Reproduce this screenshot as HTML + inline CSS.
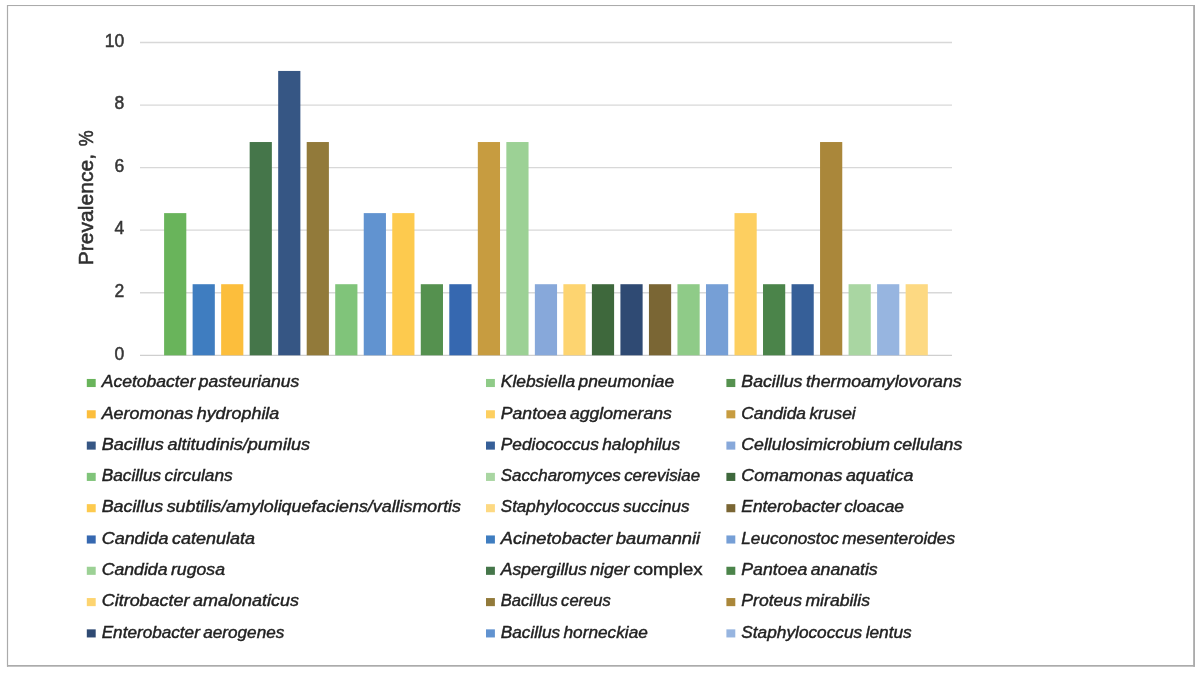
<!DOCTYPE html>
<html lang="en">
<head>
<meta charset="utf-8">
<title>Prevalence chart</title>
<style>
html,body{margin:0;padding:0;background:#fff;}
body{width:1200px;height:674px;overflow:hidden;position:relative;font-family:"Liberation Sans",sans-serif;}
svg{position:absolute;left:0;top:0;display:block;}
.ax{font-family:"Liberation Sans",sans-serif;font-size:17.5px;fill:#363636;stroke:#363636;stroke-width:0.5px;}
.ttl{font-family:"Liberation Sans",sans-serif;font-size:20.4px;fill:#303030;stroke:#303030;stroke-width:0.55px;}
.lg{font-family:"Liberation Sans",sans-serif;font-size:16.3px;font-style:italic;fill:#222;stroke:#222;stroke-width:0.42px;word-spacing:-1.3px;}
.lg.up{font-style:normal;}
</style>
</head>
<body>
<svg width="1200" height="674" viewBox="0 0 1200 674">
<rect x="0" y="0" width="1200" height="674" fill="#ffffff"/>
<g fill="#ababab">
<rect x="7" y="5" width="1188" height="1.05"/>
<rect x="6.9" y="5" width="1.2" height="661.7"/>
<rect x="1193.15" y="5" width="1.85" height="661.7"/>
<rect x="7" y="665" width="1188" height="1.7"/>
</g>

<g stroke="#d8d8d8" stroke-width="1.3">
<line x1="140" y1="355.30" x2="952" y2="355.30" stroke="#cfcfcf"/>
<line x1="140" y1="292.74" x2="952" y2="292.74"/>
<line x1="140" y1="230.18" x2="952" y2="230.18"/>
<line x1="140" y1="167.62" x2="952" y2="167.62"/>
<line x1="140" y1="105.06" x2="952" y2="105.06"/>
<line x1="140" y1="42.50" x2="952" y2="42.50"/>
</g>
<g>
<rect x="164.10" y="213.12" width="22.20" height="142.18" fill="#69B45B"/>
<rect x="192.62" y="284.21" width="22.20" height="71.09" fill="#3F7DC0"/>
<rect x="221.14" y="284.21" width="22.20" height="71.09" fill="#FCBE3C"/>
<rect x="249.66" y="142.03" width="22.20" height="213.27" fill="#45764A"/>
<rect x="278.18" y="70.94" width="22.20" height="284.36" fill="#365684"/>
<rect x="306.70" y="142.03" width="22.20" height="213.27" fill="#927A3A"/>
<rect x="335.22" y="284.21" width="22.20" height="71.09" fill="#80C47A"/>
<rect x="363.74" y="213.12" width="22.20" height="142.18" fill="#6193D0"/>
<rect x="392.26" y="213.12" width="22.20" height="142.18" fill="#FDCA4E"/>
<rect x="420.78" y="284.21" width="22.20" height="71.09" fill="#55914F"/>
<rect x="449.30" y="284.21" width="22.20" height="71.09" fill="#3668B0"/>
<rect x="477.82" y="142.03" width="22.20" height="213.27" fill="#C79C40"/>
<rect x="506.34" y="142.03" width="22.20" height="213.27" fill="#9CD195"/>
<rect x="534.86" y="284.21" width="22.20" height="71.09" fill="#87A8DA"/>
<rect x="563.38" y="284.21" width="22.20" height="71.09" fill="#FDD470"/>
<rect x="591.90" y="284.21" width="22.20" height="71.09" fill="#3E683C"/>
<rect x="620.42" y="284.21" width="22.20" height="71.09" fill="#2F4A73"/>
<rect x="648.94" y="284.21" width="22.20" height="71.09" fill="#7A6634"/>
<rect x="677.46" y="284.21" width="22.20" height="71.09" fill="#8FCB88"/>
<rect x="705.98" y="284.21" width="22.20" height="71.09" fill="#769FD6"/>
<rect x="734.50" y="213.12" width="22.20" height="142.18" fill="#FDCF60"/>
<rect x="763.02" y="284.21" width="22.20" height="71.09" fill="#4B844A"/>
<rect x="791.54" y="284.21" width="22.20" height="71.09" fill="#365F98"/>
<rect x="820.06" y="142.03" width="22.20" height="213.27" fill="#AA873A"/>
<rect x="848.58" y="284.21" width="22.20" height="71.09" fill="#A9D6A2"/>
<rect x="877.10" y="284.21" width="22.20" height="71.09" fill="#97B5E0"/>
<rect x="905.62" y="284.21" width="22.20" height="71.09" fill="#FDD982"/>
</g>
<g class="ax" text-anchor="end">
<text x="124.3" y="360.10">0</text>
<text x="124.3" y="296.60">2</text>
<text x="124.3" y="234.10">4</text>
<text x="124.3" y="171.60">6</text>
<text x="124.3" y="109.10">8</text>
<text x="124.3" y="46.60">10</text>
</g>
<text class="ttl" transform="translate(92.8,265.2) rotate(-90)" textLength="111.2" lengthAdjust="spacingAndGlyphs">Prevalence,</text>
<text class="ttl" transform="translate(92.8,146.2) rotate(-90)" textLength="15.8" lengthAdjust="spacingAndGlyphs">%</text>
<rect x="86.8" y="378.95" width="8.9" height="8.1" fill="#69B45B"/>
<text class="lg" x="101.7" y="387.20" textLength="197.6" lengthAdjust="spacingAndGlyphs">Acetobacter pasteurianus</text>
<rect x="86.8" y="410.25" width="8.9" height="8.1" fill="#FCBE3C"/>
<text class="lg" x="101.7" y="418.50" textLength="177.6" lengthAdjust="spacingAndGlyphs">Aeromonas hydrophila</text>
<rect x="86.8" y="441.55" width="8.9" height="8.1" fill="#365684"/>
<text class="lg" x="101.7" y="449.80" textLength="208.3" lengthAdjust="spacingAndGlyphs">Bacillus altitudinis/pumilus</text>
<rect x="86.8" y="472.85" width="8.9" height="8.1" fill="#80C47A"/>
<text class="lg" x="101.7" y="481.10" textLength="131.0" lengthAdjust="spacingAndGlyphs">Bacillus circulans</text>
<rect x="86.8" y="504.15" width="8.9" height="8.1" fill="#FDCA4E"/>
<text class="lg" x="101.7" y="512.40" textLength="359.3" lengthAdjust="spacingAndGlyphs">Bacillus subtilis/amyloliquefaciens/vallismortis</text>
<rect x="86.8" y="535.45" width="8.9" height="8.1" fill="#3668B0"/>
<text class="lg" x="101.7" y="543.70" textLength="153.3" lengthAdjust="spacingAndGlyphs">Candida catenulata</text>
<rect x="86.8" y="566.75" width="8.9" height="8.1" fill="#9CD195"/>
<text class="lg" x="101.7" y="575.00" textLength="123.3" lengthAdjust="spacingAndGlyphs">Candida rugosa</text>
<rect x="86.8" y="598.05" width="8.9" height="8.1" fill="#FDD470"/>
<text class="lg" x="101.7" y="606.30" textLength="197.3" lengthAdjust="spacingAndGlyphs">Citrobacter amalonaticus</text>
<rect x="86.8" y="629.35" width="8.9" height="8.1" fill="#2F4A73"/>
<text class="lg" x="101.7" y="637.60" textLength="182.6" lengthAdjust="spacingAndGlyphs">Enterobacter aerogenes</text>
<rect x="486.0" y="378.95" width="8.9" height="8.1" fill="#8FCB88"/>
<text class="lg" x="500.8" y="387.20" textLength="173.3" lengthAdjust="spacingAndGlyphs">Klebsiella pneumoniae</text>
<rect x="486.0" y="410.25" width="8.9" height="8.1" fill="#FDCF60"/>
<text class="lg" x="500.8" y="418.50" textLength="171.0" lengthAdjust="spacingAndGlyphs">Pantoea agglomerans</text>
<rect x="486.0" y="441.55" width="8.9" height="8.1" fill="#365F98"/>
<text class="lg" x="500.8" y="449.80" textLength="179.3" lengthAdjust="spacingAndGlyphs">Pediococcus halophilus</text>
<rect x="486.0" y="472.85" width="8.9" height="8.1" fill="#A9D6A2"/>
<text class="lg" x="500.8" y="481.10" textLength="199.3" lengthAdjust="spacingAndGlyphs">Saccharomyces cerevisiae</text>
<rect x="486.0" y="504.15" width="8.9" height="8.1" fill="#FDD982"/>
<text class="lg" x="500.8" y="512.40" textLength="188.6" lengthAdjust="spacingAndGlyphs">Staphylococcus succinus</text>
<rect x="486.0" y="535.45" width="8.9" height="8.1" fill="#3F7DC0"/>
<text class="lg" x="500.8" y="543.70" textLength="199.3" lengthAdjust="spacingAndGlyphs">Acinetobacter baumannii</text>
<rect x="486.0" y="566.75" width="8.9" height="8.1" fill="#45764A"/>
<text class="lg" x="500.8" y="575.00" textLength="128.5" lengthAdjust="spacingAndGlyphs">Aspergillus niger</text>
<text class="lg up" x="633.4" y="575.00" textLength="69.2" lengthAdjust="spacingAndGlyphs">complex</text>
<rect x="486.0" y="598.05" width="8.9" height="8.1" fill="#927A3A"/>
<text class="lg" x="500.8" y="606.30" textLength="110.0" lengthAdjust="spacingAndGlyphs">Bacillus cereus</text>
<rect x="486.0" y="629.35" width="8.9" height="8.1" fill="#6193D0"/>
<text class="lg" x="500.8" y="637.60" textLength="147.0" lengthAdjust="spacingAndGlyphs">Bacillus horneckiae</text>
<rect x="726.4" y="378.95" width="8.9" height="8.1" fill="#55914F"/>
<text class="lg" x="741.3" y="387.20" textLength="220.4" lengthAdjust="spacingAndGlyphs">Bacillus thermoamylovorans</text>
<rect x="726.4" y="410.25" width="8.9" height="8.1" fill="#C79C40"/>
<text class="lg" x="741.3" y="418.50" textLength="114.4" lengthAdjust="spacingAndGlyphs">Candida krusei</text>
<rect x="726.4" y="441.55" width="8.9" height="8.1" fill="#87A8DA"/>
<text class="lg" x="741.3" y="449.80" textLength="221.0" lengthAdjust="spacingAndGlyphs">Cellulosimicrobium cellulans</text>
<rect x="726.4" y="472.85" width="8.9" height="8.1" fill="#3E683C"/>
<text class="lg" x="741.3" y="481.10" textLength="172.0" lengthAdjust="spacingAndGlyphs">Comamonas aquatica</text>
<rect x="726.4" y="504.15" width="8.9" height="8.1" fill="#7A6634"/>
<text class="lg" x="741.3" y="512.40" textLength="162.7" lengthAdjust="spacingAndGlyphs">Enterobacter cloacae</text>
<rect x="726.4" y="535.45" width="8.9" height="8.1" fill="#769FD6"/>
<text class="lg" x="741.3" y="543.70" textLength="213.7" lengthAdjust="spacingAndGlyphs">Leuconostoc mesenteroides</text>
<rect x="726.4" y="566.75" width="8.9" height="8.1" fill="#4B844A"/>
<text class="lg" x="741.3" y="575.00" textLength="136.4" lengthAdjust="spacingAndGlyphs">Pantoea ananatis</text>
<rect x="726.4" y="598.05" width="8.9" height="8.1" fill="#AA873A"/>
<text class="lg" x="741.3" y="606.30" textLength="128.7" lengthAdjust="spacingAndGlyphs">Proteus mirabilis</text>
<rect x="726.4" y="629.35" width="8.9" height="8.1" fill="#97B5E0"/>
<text class="lg" x="741.3" y="637.60" textLength="170.4" lengthAdjust="spacingAndGlyphs">Staphylococcus lentus</text>
</svg>
</body>
</html>
